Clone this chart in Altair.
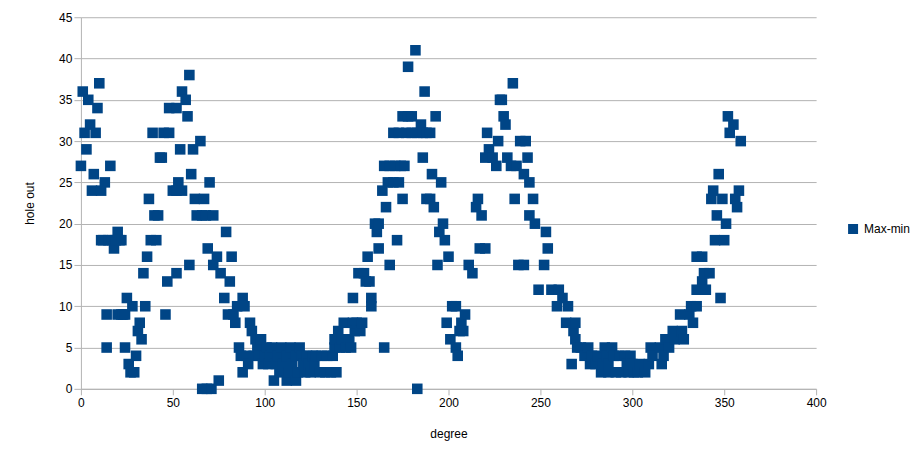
import altair as alt
import pandas as pd

# (degree, hole out) pairs, grouped by degree range
seg_000 = [(0,27),(1,36),(2,31),(3,29),(4,35),(5,32),(6,24),(7,26),(8,31),(9,34),(10,37),(11,24),(11,18),(12,18),(13,25),(14,5),(14,9),(15,18),(16,27),(17,18),(18,17),(19,18),(20,19),(20,9),(21,18),(22,9),(22,18),(23,9),(24,5),(24,9),(25,11),(26,3),(27,2),(28,10),(29,2)]
seg_030 = [(30,4),(31,7),(32,8),(33,6),(34,14),(35,10),(36,16),(37,23),(38,18),(39,31),(40,21),(41,18),(42,21),(43,28),(44,28),(45,31),(46,9),(47,13),(48,34),(48,31),(50,24),(52,34),(52,14),(52,24),(53,25),(54,29),(55,36),(55,24),(57,35),(58,33),(59,38),(59,15)]
seg_060 = [(60,26),(61,29),(62,23),(63,21),(65,30),(66,0),(66,21),(67,23),(68,21),(69,17),(68.5,0),(70,25),(71,0),(72,21),(72,15),(74,16),(75,1),(76,14),(78,11),(79,19),(80,9),(81,13),(82,16),(83,9),(84,8),(85,10),(86,5),(87,4),(88,11),(88,2),(89,10)]
seg_090 = [(90,4),(91,3),(92,8),(93,7),(94,4),(95,6),(96,5),(97,4),(98,6),(99,3),(100,4),(101,5),(102,3),(103,4),(104,5),(105,1),(106,3),(107,4),(108,2),(109,5),(110,3),(112,1),(112,4),(113,2),(114,5),(115,3),(117,1),(117,4),(118,2),(119,5)]
seg_120 = [(120,4),(121,3),(122,2),(123,4),(124,3),(125,2),(126,4),(127,3),(128,4),(130,2),(131,4),(133,2),(134,4),(136,2),(137,4),(138,5),(138,6),(139,2),(140,7),(141,5),(142,6),(143,8),(144,5),(146,6),(147,5),(148,8),(148,11),(149,7)]
seg_150 = [(150,8),(151,14),(152,7),(153,8),(154,14),(155,13),(156,16),(157,13),(158,11),(158,10),(160,20),(161,19),(162,20),(162,17),(164,24),(165,5),(165,27),(166,22),(167,25),(168,15),(168,27),(170,25),(170,31),(171,27),(172,18),(173,31),(173,25),(174,27),(175,33),(175,23),(176,27),(177,31),(178,39),(178,33)]
seg_180 = [(180,33),(180,31),(182,41),(183,0),(183,31),(185,32),(186,28),(186,31),(187,36),(188,23),(188,31),(190,23),(190,31),(191,26),(192,22),(193,33),(194,15),(195,19),(196,25),(197,20),(198,18),(199,8),(200,16),(201,6),(202,10),(204,10),(204,5),(205,4),(206,7),(207,8),(208,7),(209,9)]
seg_210 = [(211,15),(213,14),(215,22),(216,23),(218,21),(217,17),(220,17),(220,28),(221,31),(222,29),(224,28),(226,27),(227,30),(228,35),(229,35),(230,33),(231,32),(232,28),(234,27),(235,37),(236,23),(237,27),(238,15),(239,30),(241,15),(241,26),(242,30),(243,28),(244,25)]
seg_244 = [(244,21),(246,23),(247,20),(249,12),(252,15),(253,19),(254,17),(256,12),(259,10),(260,12),(262,11),(264,8),(265,10),(267,3),(268,7),(269,8),(269,6),(270,5)]
seg_270 = [(272,5),(274,4),(276,5),(277,3),(278,4),(280,3),(281,4),(283,2),(284,3),(285,5),(286,4),(287,2),(287,3),(289,5),(290,4),(291,2),(293,4),(294,2),(296,4),(297,3),(298,2),(299,4),(300,3),(301,2)]
seg_300 = [(303,2),(304,3),(307,2),(309,3),(310,5),(311,4),(315,5),(316,3),(317,4),(318,6),(320,5),(322,7),(323,6),(326,9),(327,7),(328,6),(331,9),(332,10)]
seg_332 = [(333,8),(335,10),(335,12),(335,16),(338,16),(338,13),(339,14),(340,12),(342,14),(343,23),(344,24),(345,18),(346,21),(347,26),(348,11),(349,23),(350,18),(351,20),(352,33),(353,31),(355,32),(356,23),(357,22),(358,24),(359,30)]

segments = [seg_000, seg_030, seg_060, seg_090, seg_120, seg_150, seg_180,
            seg_210, seg_244, seg_270, seg_300, seg_332]
degree = [p[0] for s in segments for p in s]
hole_out = [p[1] for s in segments for p in s]

x_ticks = [0, 50, 100, 150, 200, 250, 300, 350, 400]
y_ticks = [0, 5, 10, 15, 20, 25, 30, 35, 40, 45]
series_name = "Max-min"

df = pd.DataFrame({"degree": degree, "hole out": hole_out, "series": series_name})

FONT = "Liberation Sans"
GRID = "#b3b3b3"

chart = alt.Chart(df).mark_point(
    shape="square", filled=True, size=112, opacity=1, color="#004586"
).encode(
    x=alt.X("degree:Q",
            scale=alt.Scale(domain=[0, 400], nice=False, zero=False),
            axis=alt.Axis(values=x_ticks, title="degree", grid=False,
                          labelFlush=False,
                          domainColor=GRID, tickColor=GRID, tickSize=6,
                          labelPadding=3, labelFont=FONT, labelFontSize=12,
                          labelColor="#000000", titleFont=FONT, titleFontSize=12,
                          titleFontWeight="normal", titleColor="#000000",
                          titleX=368, titleY=45, titleBaseline="middle",
                          titleAlign="center")),
    y=alt.Y("hole out:Q",
            scale=alt.Scale(domain=[0, 45], nice=False),
            axis=alt.Axis(values=y_ticks, title="hole out", grid=True,
                          labelFlush=False,
                          gridColor=GRID, domainColor=GRID, tickColor=GRID,
                          tickSize=7, labelPadding=2, labelFont=FONT,
                          labelFontSize=12, labelColor="#000000",
                          titleFont=FONT, titleFontSize=12,
                          titleFontWeight="normal", titleColor="#000000",
                          titleX=-51, titleY=186, titleBaseline="middle",
                          titleAlign="center", titleAngle=270)),
    color=alt.Color("series:N",
                    scale=alt.Scale(domain=[series_name], range=["#004586"]),
                    legend=alt.Legend(title=None, orient="none", legendX=767,
                                      legendY=206, symbolType="square",
                                      symbolSize=100, symbolStrokeWidth=0,
                                      labelFont=FONT, labelFontSize=12,
                                      labelColor="#000000", padding=0,
                                      labelOffset=5)),
).properties(
    width=736, height=372,
    autosize=alt.AutoSizeParams(type="none"),
    padding={"left": 73, "top": 9, "right": 100, "bottom": 60},
).configure_view(stroke=None)

chart.save("out.html", embed_options={"renderer": "svg", "actions": False})
